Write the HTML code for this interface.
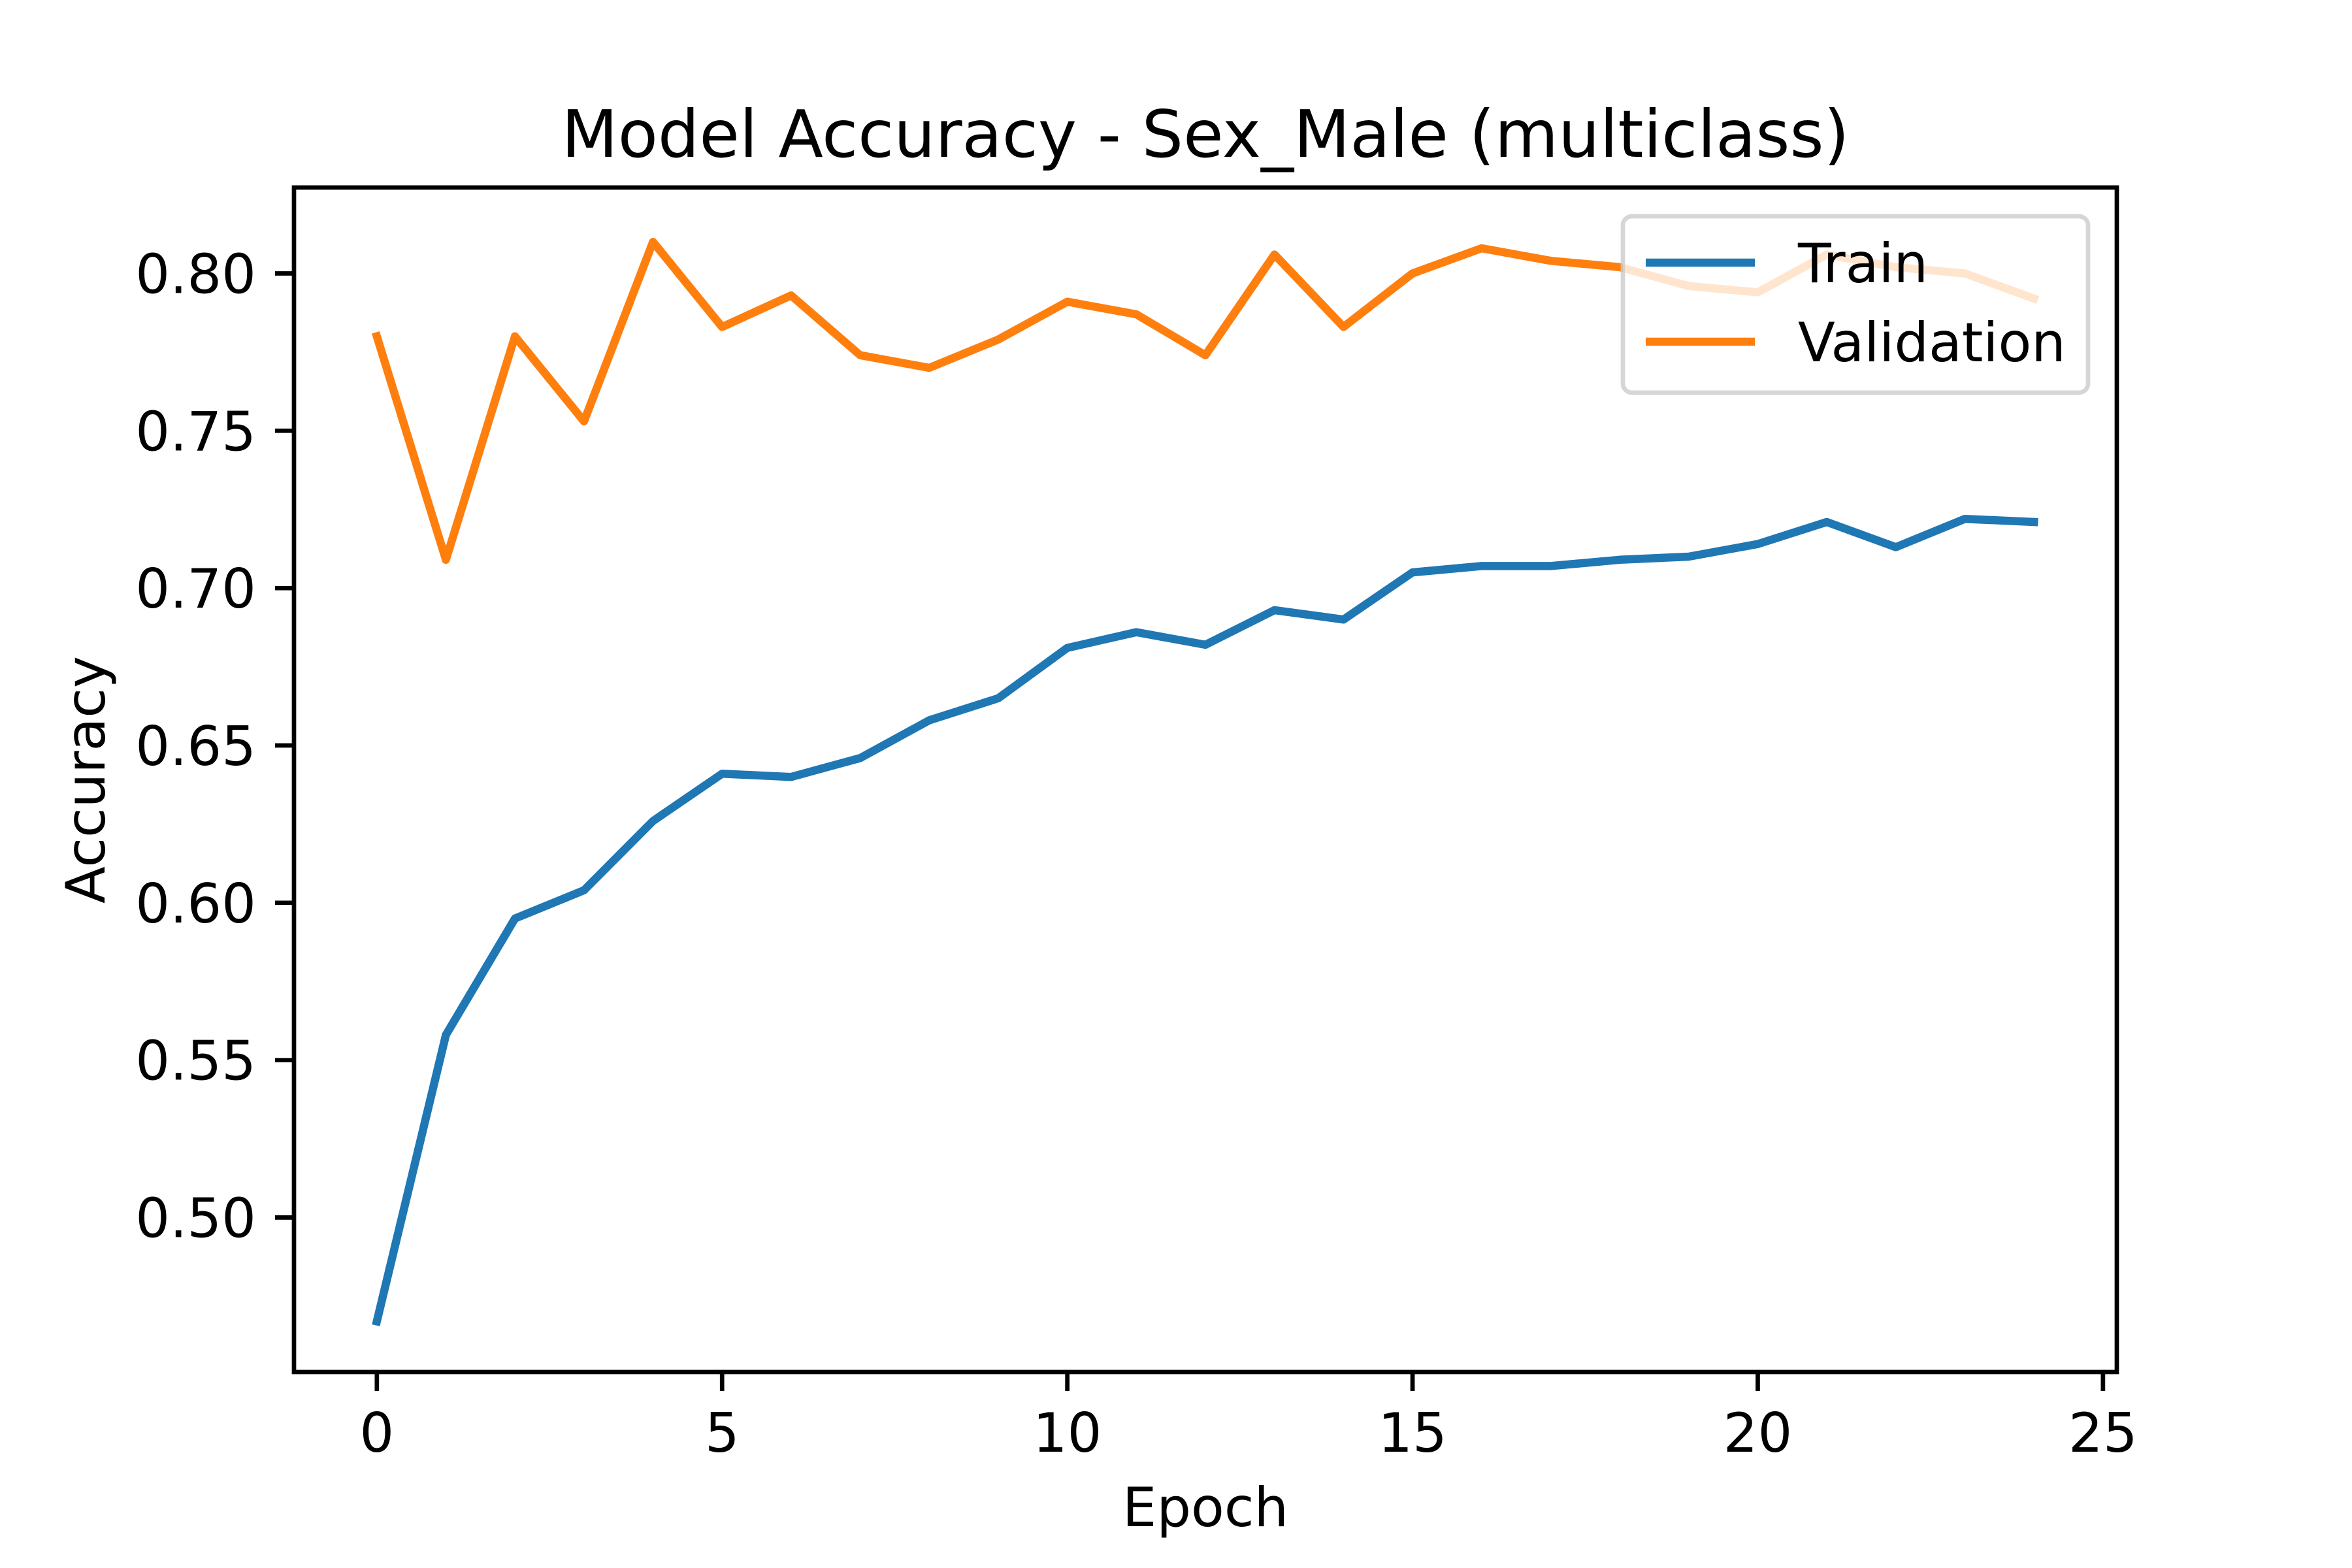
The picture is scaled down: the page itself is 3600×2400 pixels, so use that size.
<!DOCTYPE html>
<html><head><meta charset="utf-8"><style>
html,body{margin:0;padding:0;background:#fff;}
svg{display:block;font-family:"DejaVu Sans","Liberation Sans",sans-serif;}
</style></head><body>
<svg id="chart" width="3600" height="2400" viewBox="0 0 3600 2400" xmlns="http://www.w3.org/2000/svg">
<rect width="3600" height="2400" fill="#fff"/>
<g id="plot"></g>
</svg>
<script>
const epochs = [0,1,2,3,4,5,6,7,8,9,10,11,12,13,14,15,16,17,18,19,20,21,22,23,24];
const trainAcc = [0.467,0.558,0.595,0.604,0.626,0.641,0.640,0.646,0.658,0.665,0.681,0.686,0.682,0.693,0.690,0.705,0.707,0.707,0.709,0.710,0.714,0.721,0.713,0.722,0.721];
const valAcc = [0.780,0.709,0.780,0.753,0.810,0.783,0.793,0.774,0.770,0.779,0.791,0.787,0.774,0.806,0.783,0.800,0.808,0.804,0.802,0.796,0.794,0.806,0.802,0.800,0.792];
const xTicks = [0,5,10,15,20,25];
const yTicks = [0.50,0.55,0.60,0.65,0.70,0.75,0.80];

const L=450,R=3240,T=287,B=2100;
const xMin=-1.2,xMax=25.2,yMin=0.4509,yMax=0.8273;
const sx=v=>L+(v-xMin)/(xMax-xMin)*(R-L);
const sy=v=>B-(v-yMin)/(yMax-yMin)*(B-T);
const NS="http://www.w3.org/2000/svg";
const g=document.getElementById('plot');
function mk(tag,attrs,parent){const e=document.createElementNS(NS,tag);for(const k in attrs)e.setAttribute(k,attrs[k]);(parent||g).appendChild(e);return e;}

function series(vals,color,name){
  const d=vals.map((v,i)=>(i?'L':'M')+sx(epochs[i]).toFixed(1)+' '+sy(v).toFixed(1)).join(' ');
  const p=mk('path',{d:d,fill:'none',stroke:color,'stroke-width':12.5,'stroke-linejoin':'round','stroke-linecap':'square'});
  
  
}
series(trainAcc,'#1f77b4','train-line');
series(valAcc,'#ff7f0e','validation-line');

const fr=mk('rect',{x:L,y:T,width:R-L,height:B-T,fill:'none',stroke:'#000','stroke-width':6.7});



xTicks.forEach(t=>{
  const x=sx(t);
  const tk=mk('line',{x1:x,y1:B,x2:x,y2:B+29,stroke:'#000','stroke-width':6.7});
  
  
  const tx=mk('text',{x:x,y:B+58+64,'font-size':83,'text-anchor':'middle'});
  tx.textContent=t;
  
  
});
yTicks.forEach(t=>{
  const y=sy(t);
  const tk=mk('line',{x1:L-29,y1:y,x2:L,y2:y,stroke:'#000','stroke-width':6.7});
  
  
  const tx=mk('text',{x:L-58,y:y+30,'font-size':83,'text-anchor':'end'});
  tx.textContent=t.toFixed(2);
  
  
});

const ti=mk('text',{x:(L+R)/2,y:240,'font-size':100,'text-anchor':'middle'});
ti.textContent='Model Accuracy - Sex_Male (multiclass)';


const xl=mk('text',{x:(L+R)/2,y:2336,'font-size':83,'text-anchor':'middle'});
xl.textContent='Epoch';


const yl=mk('text',{x:0,y:0,'font-size':83,'text-anchor':'middle',transform:'translate(160,'+((T+B)/2)+') rotate(-90)'});
yl.textContent='Accuracy';



const lg=mk('g',{});


mk('rect',{x:2484,y:331,width:712,height:270,rx:14,fill:'#fff','fill-opacity':0.8,stroke:'#ccc','stroke-opacity':0.8,'stroke-width':6.7},lg);
[['Train','#1f77b4',402],['Validation','#ff7f0e',523]].forEach(([lab,c,y])=>{
  const e=mk('g',{},lg);
  
  
  mk('line',{x1:2519,y1:y,x2:2686,y2:y,stroke:c,'stroke-width':12.5},e);
  const t=mk('text',{x:2752,y:y+30,'font-size':83},e);
  t.textContent=lab;
});
</script>
</body></html>
